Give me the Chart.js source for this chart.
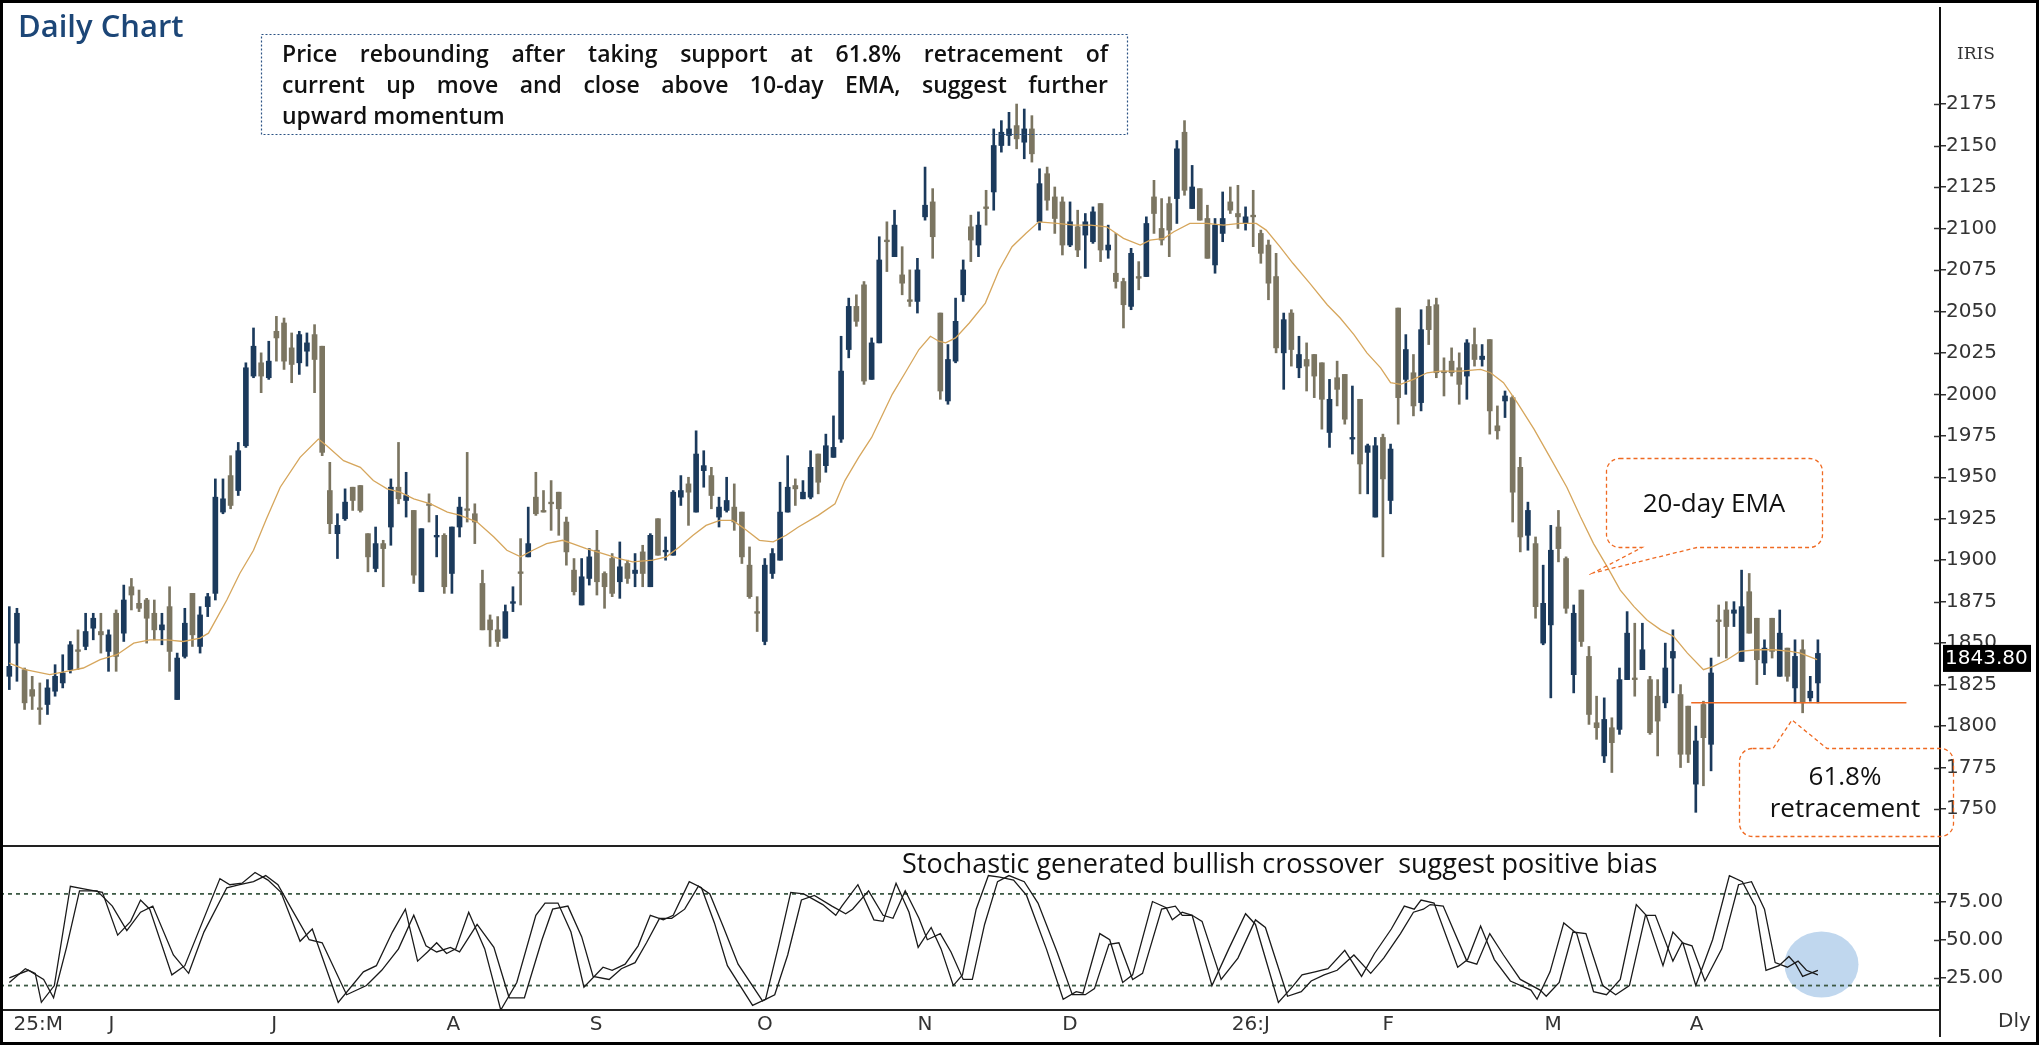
<!DOCTYPE html>
<html>
<head>
<meta charset="utf-8">
<script src="https://cdn.jsdelivr.net/npm/chart.js@4.4.1/dist/chart.umd.min.js"></script>
<style>
html, body { margin: 0; padding: 0; background: #fff; }
#wrap { position: relative; width: 2039px; height: 1045px; overflow: hidden; background: #fff; }
#priceChart { position: absolute; left: 0; top: 0; width: 2039px; height: 845px; }
#stochChart { position: absolute; left: 0; top: 845px; width: 2039px; height: 200px; }
#frame { position: absolute; left: 0; top: 0; width: 2039px; height: 1045px; box-sizing: border-box; border: 3px solid #000; pointer-events: none; }
</style>
</head>
<body>
<div id="wrap">
  <canvas id="priceChart" width="2039" height="845"></canvas>
  <canvas id="stochChart" width="2039" height="200"></canvas>
  <div id="frame"></div>
</div>
<script>
// daily candles (index 0 = first bar, mid-May 2025)
const opens = [
  1830,1850,1834,1822,1811,1813,1821,1826,1834,1846,
  1848,1859,1857,1845,1868,1856,1884,1874,1876,1868,
  1858,1872,1816,1842,1880,1848,1872,1880,1929,1951,
  1942,1969,2011,2019,2010,2038,2043,2028,2019,2026,
  2036,2029,1942,1916,1925,1944,1945,1916,1895,1910,
  1920,1944,1936,1930,1881,1934,1914,1915,1892,1920,
  1931,1928,1886,1864,1858,1853,1874,1893,1902,1938,
  1930,1935,1941,1923,1894,1873,1889,1906,1892,1901,
  1887,1898,1892,1905,1884,1925,1905,1903,1938,1946,
  1929,1954,1951,1926,1930,1932,1929,1897,1869,1851,
  1892,1900,1929,1945,1937,1938,1964,1957,1962,1973,
  2027,2053,2066,2009,2031,2093,2083,2072,2057,2056,
  2107,2116,2049,1996,2020,2060,2101,2090,2113,2122,
  2150,2156,2162,2152,2160,2104,2133,2119,2116,2090,
  2101,2096,2092,2115,2087,2073,2068,2053,2071,2071,
  2119,2100,2115,2118,2158,2112,2124,2106,2078,2097,
  2116,2109,2103,2108,2097,2090,2071,2025,2049,2016,
  2021,2024,2019,1977,2010,2012,1973,1997,1965,1926,
  1974,1936,2052,2009,2013,1995,2053,2054,2014,2020,
  2016,2011,2030,2021,2033,1981,1996,1998,1956,1915,
  1910,1850,1861,1920,1901,1831,1882,1842,1802,1782,
  1799,1798,1828,1829,1834,1828,1818,1814,1841,1819,
  1812,1765,1813,1789,1864,1870,1868,1839,1881,1865,
  1838,1865,1830,1847,1823,1846,1817,1826
];
const highs = [
  1872,1871,1835,1830,1826,1828,1837,1843,1851,1858,
  1868,1868,1868,1858,1870,1885,1889,1882,1877,1876,
  1868,1884,1844,1871,1880,1872,1880,1949,1949,1963,
  1971,2019,2040,2025,2032,2047,2046,2037,2038,2037,
  2042,2029,1959,1928,1943,1944,1945,1916,1920,1912,
  1949,1971,1953,1930,1919,1940,1927,1916,1920,1938,
  1965,1934,1894,1867,1866,1873,1884,1913,1932,1953,
  1942,1948,1941,1926,1901,1901,1907,1918,1893,1904,
  1911,1900,1904,1909,1916,1925,1914,1942,1951,1950,
  1978,1966,1956,1938,1950,1946,1929,1908,1878,1901,
  1907,1947,1963,1949,1948,1966,1964,1976,1987,2035,
  2058,2060,2068,2034,2095,2104,2111,2089,2075,2082,
  2137,2124,2049,2030,2058,2081,2108,2110,2123,2160,
  2165,2170,2175,2172,2168,2136,2137,2125,2119,2116,
  2111,2109,2113,2115,2102,2097,2070,2088,2080,2107,
  2129,2118,2119,2153,2165,2138,2124,2114,2106,2122,
  2125,2126,2113,2123,2099,2093,2085,2049,2051,2035,
  2031,2024,2019,2009,2020,2012,2005,1997,1970,1974,
  1976,1970,2052,2036,2024,2051,2057,2058,2022,2028,
  2025,2033,2040,2030,2033,1993,2002,1999,1962,1935,
  1914,1897,1921,1930,1902,1873,1882,1848,1818,1817,
  1805,1835,1869,1862,1862,1830,1828,1850,1858,1825,
  1812,1800,1815,1841,1873,1875,1875,1894,1892,1865,
  1852,1865,1870,1847,1852,1852,1830,1852
];
const lows = [
  1822,1827,1810,1810,1801,1807,1818,1823,1832,1834,
  1846,1852,1844,1833,1833,1851,1870,1869,1850,1852,
  1849,1833,1816,1841,1848,1844,1866,1876,1928,1931,
  1939,1968,2010,2001,2009,2020,2015,2007,2012,2017,
  2001,1963,1916,1901,1924,1930,1929,1893,1893,1884,
  1909,1934,1926,1886,1881,1923,1902,1880,1880,1914,
  1923,1910,1858,1848,1848,1853,1869,1873,1902,1927,
  1929,1918,1915,1897,1879,1873,1885,1879,1871,1878,
  1877,1886,1884,1884,1884,1903,1900,1903,1933,1921,
  1929,1944,1931,1920,1929,1918,1898,1877,1857,1849,
  1889,1900,1929,1933,1937,1937,1940,1953,1962,1971,
  2022,2041,2006,2009,2031,2074,2083,2060,2053,2049,
  2105,2082,1997,1994,2019,2056,2080,2083,2102,2111,
  2146,2150,2148,2142,2140,2099,2111,2097,2084,2089,
  2083,2076,2091,2080,2082,2064,2040,2051,2063,2071,
  2097,2090,2083,2103,2120,2112,2105,2082,2073,2092,
  2109,2100,2099,2089,2079,2057,2025,2003,2017,2010,
  2002,1998,1979,1968,1993,1982,1964,1940,1940,1926,
  1902,1928,1982,2000,1987,1990,2030,2010,1999,2011,
  1994,1997,2017,2017,1976,1973,1986,1923,1905,1906,
  1865,1849,1817,1899,1868,1820,1848,1801,1792,1778,
  1772,1795,1828,1818,1834,1795,1782,1811,1820,1775,
  1778,1748,1764,1773,1842,1841,1860,1839,1856,1825,
  1831,1841,1830,1827,1814,1808,1815,1814
];
const closes = [
  1836,1868,1814,1818,1810,1823,1830,1832,1849,1845,
  1857,1865,1855,1855,1842,1876,1879,1871,1865,1858,
  1861,1845,1841,1862,1855,1867,1878,1938,1937,1933,
  1966,2016,2029,2011,2020,2034,2020,2018,2036,2031,
  2021,1965,1922,1921,1935,1936,1930,1902,1910,1907,
  1944,1937,1939,1891,1919,1933,1915,1884,1920,1932,
  1930,1923,1858,1858,1851,1869,1875,1892,1910,1928,
  1929,1934,1931,1905,1881,1890,1902,1887,1884,1880,
  1896,1889,1894,1892,1915,1903,1906,1941,1942,1941,
  1964,1957,1939,1932,1936,1923,1902,1878,1868,1897,
  1904,1929,1944,1943,1941,1956,1947,1969,1968,2014,
  2053,2044,2008,2031,2081,2092,2102,2067,2056,2075,
  2114,2095,2002,2021,2044,2075,2093,2102,2112,2150,
  2158,2160,2154,2160,2145,2127,2117,2106,2090,2104,
  2087,2104,2110,2087,2090,2068,2054,2085,2070,2103,
  2109,2093,2099,2148,2123,2125,2105,2082,2102,2106,
  2111,2107,2107,2107,2085,2067,2028,2045,2027,2024,
  2017,2011,1997,1997,2003,1985,1974,1958,1969,1969,
  1949,1967,1998,2027,1993,2039,2039,2013,2013,2013,
  2006,2031,2021,2023,1990,1978,1999,1941,1914,1930,
  1872,1874,1906,1907,1871,1868,1851,1807,1799,1804,
  1790,1828,1856,1828,1846,1796,1803,1835,1845,1783,
  1783,1791,1793,1832,1863,1860,1870,1872,1856,1840,
  1847,1845,1856,1830,1842,1814,1821,1843.8
];

// 20-day EMA, read at [bar index, price]
const emaPoints = [
  [0,1838],[2.1,1834],[5.3,1831],[7.5,1833],[9.7,1835],[11.9,1840],[14.1,1843],[16.3,1850],
  [18.4,1852],[20.6,1852],[22.8,1851],[25,1853],[26.1,1856],[28.5,1876],[30.2,1892],[32,1906],
  [33.7,1925],[35.5,1944],[38.1,1962],[40.5,1973],[41.6,1969],[43.8,1960],[46,1956],[47.7,1948],
  [49.5,1943],[51.2,1941],[53,1937],[55.2,1934],[57.4,1929],[59.1,1927],[61.3,1923],[63.5,1914],
  [65.2,1906],[67,1902],[68.6,1906],[70.4,1910],[72.5,1912],[73.8,1910],[75.6,1907],[77.8,1904],
  [79.9,1901],[81.7,1899],[84.3,1900],[86.1,1902],[87.8,1908],[89.6,1915],[91.3,1921],[93.1,1924],
  [94.8,1924],[96.6,1918],[98.3,1912],[100.1,1911],[101.8,1915],[103.4,1920],[106,1927],[108.2,1934],
  [109.5,1948],[111.3,1962],[113,1974],[115.7,2000],[117.4,2013],[119.2,2027],[120.7,2035],[121.8,2032],
  [122.7,2031],[124,2034],[125.8,2043],[127.9,2055],[129.7,2075],[131.4,2089],[133.2,2097],[134.9,2104],
  [137.3,2103],[139.5,2102],[141.7,2102],[143.8,2101],[146,2094],[148.2,2090],[149.5,2093],[151.3,2094],
  [152.6,2098],[154.7,2103],[156.9,2103],[159.1,2102],[161.3,2103],[163.4,2103],[164.7,2099],[166.5,2089],
  [168.2,2079],[170.4,2067],[172.7,2054],[174.4,2046],[176.2,2036],[177.9,2025],[179.7,2016],[181,2007],
  [182.3,2006],[184,2009],[185.8,2013],[187.5,2014],[190.2,2014],[192.8,2015],[194.1,2013],[195.8,2007],
  [197.6,1995],[199.8,1979],[201.9,1962],[204.1,1944],[205.9,1926],[207.6,1910],[209.4,1896],[211.1,1882],
  [212.9,1872],[214.6,1864],[216.4,1858],[218.1,1854],[219.9,1844],[222,1834],[223.3,1836],[225.1,1840],
  [226.8,1845],[229,1846],[231.2,1846],[233.4,1845],[234.7,1844],[236.9,1840]
];

// stochastic %K and %D, [bar index, value]
const stochK = [
  [0,22],[2.1,31],[3.4,28],[4.2,9],[5.9,20],[8,85],[10.1,83],[12.2,81],[14.2,53],[15.9,62],[17.2,76],
  [18.4,70],[21.3,27],[23,33],[27.6,90],[28.9,86],[30.5,87],[32.2,94],[33.9,89],[35.6,81],[38.1,49],
  [39.7,57],[43.1,9],[46.4,29],[48.1,33],[50.2,55],[51.9,70],[53.5,36],[54.8,42],[56,48],[57.3,41],
  [58.5,44],[60.2,68],[62.3,44],[64.4,4],[66.5,22],[69,66],[70.2,74],[71.9,74],[73.6,55],[75.3,19],
  [77.8,32],[79,30],[80.7,34],[82.4,46],[84,66],[85.7,63],[87,66],[89.1,88],[90.7,84],[92.4,61],
  [94.1,33],[97.4,7],[99.1,11],[100.8,46],[102.4,81],[104.1,80],[106.6,73],[108.3,66],[109.1,72],
  [111.2,86],[113.3,63],[114.5,62],[116.2,87],[117.9,68],[119.1,45],[120.8,58],[122.1,44],[123.7,20],
  [124.9,27],[126.7,70],[128.3,92],[129.8,91],[131.6,89],[133.3,79],[135.9,44],[138.1,11],[139.8,16],
  [140.7,15],[142.9,54],[144.2,50],[145.9,22],[147.2,27],[149.8,75],[151.6,71],[152.4,63],[153.7,68],
  [155,66],[157.6,20],[159.8,44],[162,67],[163.3,60],[166.3,9],[168.1,19],[169.4,27],[171.1,29],
  [172.8,31],[175,43],[177.2,26],[178.9,41],[181.1,57],[182.8,72],[184.1,70],[185,76],[186.7,74],
  [189.8,32],[191.1,37],[192.8,59],[194.6,37],[196.7,23],[199.4,17],[200.2,11],[201.9,29],[203.7,61],
  [205.4,54],[207.6,16],[209.3,14],[211.1,24],[213.2,73],[214.5,66],[216.7,33],[218,55],[219.3,48],
  [221,20],[223.2,50],[225.4,92],[227.1,88],[228.8,72],[230.2,30],[231.9,33],[233.2,39],[234.1,34],
  [235,26],[237,30]
];
const stochD = [
  [0,25],[2.5,30],[4.5,24],[5.8,12],[7.5,45],[9.2,82],[11.5,82],[13.5,72],[15.4,56],[17.2,68],[18.8,72],
  [21.5,40],[23.5,28],[25.5,55],[28.5,84],[30.2,86],[32,88],[33.6,92],[35.2,86],[37,70],[39.3,50],
  [41,48],[44.2,14],[46.8,20],[48.8,30],[51,44],[53,66],[54.6,46],[56,42],[57.8,45],[59,42],
  [61.3,60],[63.5,45],[65.5,12],[67.5,12],[69.8,50],[71.2,70],[73.2,72],[75,52],[76.5,26],[78.6,24],
  [80.2,31],[82,35],[83.5,48],[85.2,64],[86.8,64],[88.5,70],[90.3,85],[91.8,80],[93.6,58],[95.5,34],
  [98.7,10],[100.3,14],[102,40],[103.8,76],[105.5,79],[107.8,72],[109.6,67],[110.5,70],[112.6,82],
  [114.5,66],[115.8,64],[117.4,82],[119.2,64],[120.3,50],[122,54],[123.4,42],[125,24],[126.2,24],
  [127.8,60],[129.5,88],[131,92],[133,88],[134.8,74],[137.3,42],[139.3,14],[141,14],[142.2,18],
  [144.1,47],[145.4,48],[147.2,24],[148.5,28],[151,70],[152.8,72],[153.7,66],[155,66],[156.3,62],
  [158.8,24],[161,38],[163.3,63],[164.6,58],[167.5,13],[169.3,16],[170.6,23],[172.3,27],[174,30],
  [176.2,40],[178.4,28],[180.1,38],[182.3,54],[184,68],[185.3,70],[186.2,73],[187.9,72],[191,36],
  [192.3,34],[194,54],[195.8,40],[198,24],[200.6,17],[201.4,13],[203.1,22],[204.9,55],[206.6,54],
  [208.8,20],[210.5,14],[212.3,20],[214.4,66],[215.7,66],[218,36],[219.2,48],[220.5,46],[222.2,23],
  [224.4,44],[226.6,86],[228.3,88],[230,70],[231.4,35],[233,32],[234.4,36],[235.5,30],[237,27]
];

const priceTicks = [1750,1775,1800,1825,1850,1875,1900,1925,1950,1975,2000,2025,2050,2075,2100,2125,2150,2175];
const stochTicks = [25, 50, 75];
const stochBands = [20, 80];
const monthLabels = ['25:M','J','J','A','S','O','N','D','26:J','F','M','A'];
const monthIdx = [3.8, 13.4, 34.7, 58.2, 76.9, 99, 120, 139, 162.7, 180.7, 202.3, 221.1];
const retraceLevel = 1814;
const retraceFrom = 220.4, retraceTo = 248.6;

const UP = '#1b3a5c';
const DOWN = '#7b7561';
const EMA_COLOR = '#d6a65c';
const ORANGE = '#ef6a22';
const axisFont = { family: 'DejaVu Sans', size: 20 };
const axisColor = '#333';
const xMin = -1.22, xMax = 253.0;

Chart.defaults.animation = false;

const bars = closes.map((c, i) => i);
const candleColors = closes.map((c, i) => c >= opens[i] ? UP : DOWN);

function justified(ctx, text, x, y, width, justify) {
  const words = text.split(' ');
  const widths = words.map(w => ctx.measureText(w).width);
  const total = widths.reduce((a, b) => a + b, 0);
  const gap = justify ? (width - total) / (words.length - 1) : ctx.measureText(' ').width;
  let cx = x;
  words.forEach((w, i) => {
    ctx.fillText(w, cx, y);
    cx += widths[i] + gap;
  });
}

function callout(ctx, x, y, w, h, r, ptr) {
  ctx.beginPath();
  ctx.moveTo(x + r, y);
  if (ptr.side === 'top') {
    ctx.lineTo(ptr.a, y);
    ctx.lineTo(ptr.tx, ptr.ty);
    ctx.lineTo(ptr.b, y);
  }
  ctx.lineTo(x + w - r, y);
  ctx.arcTo(x + w, y, x + w, y + r, r);
  ctx.lineTo(x + w, y + h - r);
  ctx.arcTo(x + w, y + h, x + w - r, y + h, r);
  if (ptr.side === 'bottom') {
    ctx.lineTo(ptr.b, y + h);
    ctx.lineTo(ptr.tx, ptr.ty);
    ctx.lineTo(ptr.a, y + h);
  }
  ctx.lineTo(x + r, y + h);
  ctx.arcTo(x, y + h, x, y + h - r, r);
  ctx.lineTo(x, y + r);
  ctx.arcTo(x, y, x + r, y, r);
  ctx.closePath();
}

const priceDecor = {
  id: 'priceDecor',
  afterDraw(chart) {
    const ctx = chart.ctx;
    const yScale = chart.scales.y;
    const axisX = chart.chartArea.right;
    ctx.save();

    // little left half of the axis ticks
    ctx.strokeStyle = '#333';
    ctx.lineWidth = 1.5;
    priceTicks.forEach(v => {
      const y = Math.round(yScale.getPixelForValue(v)) + 0.5;
      ctx.beginPath();
      ctx.moveTo(axisX - 6, y);
      ctx.lineTo(axisX, y);
      ctx.stroke();
    });

    // title
    ctx.fillStyle = '#1c4677';
    ctx.font = '600 31px "Open Sans"';
    ctx.textBaseline = 'middle';
    ctx.textAlign = 'left';
    ctx.fillText('Daily Chart', 18, 28, 172);

    // comment box
    ctx.setLineDash([2, 2]);
    ctx.strokeStyle = '#2b5283';
    ctx.lineWidth = 1.2;
    ctx.strokeRect(261.5, 34.5, 866, 100);
    ctx.setLineDash([]);
    ctx.fillStyle = '#111';
    ctx.font = '600 23px "Open Sans"';
    justified(ctx, 'Price rebounding after taking support at 61.8% retracement of', 282, 55, 826, true);
    justified(ctx, 'current up move and close above 10-day EMA, suggest further', 282, 86, 826, true);
    justified(ctx, 'upward momentum', 282, 117, 826, false);

    // callouts
    ctx.setLineDash([4, 3]);
    ctx.strokeStyle = ORANGE;
    ctx.lineWidth = 1.3;
    callout(ctx, 1606.5, 458.5, 216, 89, 13, { side: 'bottom', a: 1642, b: 1697, tx: 1593, ty: 573 });
    ctx.stroke();
    callout(ctx, 1739.5, 748.5, 214, 88, 13, { side: 'top', a: 1773, b: 1827, tx: 1792, ty: 720 });
    ctx.stroke();
    ctx.setLineDash([]);

    ctx.fillStyle = '#111';
    ctx.font = '500 26px "Open Sans"';
    ctx.textAlign = 'center';
    ctx.fillText('20-day EMA', 1714, 505);
    ctx.fillText('61.8%', 1845, 778);
    ctx.fillText('retracement', 1845, 810);

    // symbol and last price tag
    ctx.font = '17px "DejaVu Serif"';
    ctx.fillStyle = '#333';
    ctx.fillText('IRIS', 1976, 55);
    const last = closes[closes.length - 1];
    const ty = yScale.getPixelForValue(last) + 5;
    ctx.fillStyle = '#000';
    ctx.fillRect(axisX + 3, ty - 13.5, 88, 27);
    ctx.fillStyle = '#fff';
    ctx.textAlign = 'left';
    ctx.font = '20px "DejaVu Sans"';
    ctx.fillText(last.toFixed(2), axisX + 5, ty);
    ctx.restore();
  }
};

const stochDecor = {
  id: 'stochDecor',
  beforeDatasetsDraw(chart) {
    const ctx = chart.ctx;
    ctx.save();
    ctx.fillStyle = 'rgba(150,188,226,0.6)';
    ctx.beginPath();
    ctx.ellipse(1821.5, 119.5, 37, 33, 0, 0, Math.PI * 2);
    ctx.fill();
    ctx.restore();
  },
  afterDraw(chart) {
    const ctx = chart.ctx;
    const area = chart.chartArea;
    const yScale = chart.scales.y;
    ctx.save();
    ctx.strokeStyle = '#222';
    ctx.lineWidth = 2;
    ctx.beginPath();
    ctx.moveTo(0, 1);
    ctx.lineTo(area.right, 1);
    ctx.moveTo(area.right, area.bottom);
    ctx.lineTo(area.right, 192);
    ctx.stroke();

    ctx.strokeStyle = '#333';
    ctx.lineWidth = 1.5;
    stochTicks.forEach(v => {
      const y = Math.round(yScale.getPixelForValue(v)) + 0.5;
      ctx.beginPath();
      ctx.moveTo(area.right - 6, y);
      ctx.lineTo(area.right, y);
      ctx.stroke();
    });

    ctx.fillStyle = '#111';
    ctx.textBaseline = 'middle';
    ctx.textAlign = 'left';
    ctx.font = '500 27px "Open Sans"';
    ctx.fillText('Stochastic generated bullish crossover  suggest positive bias', 902, 20, 757);

    ctx.fillStyle = axisColor;
    ctx.font = '20px "DejaVu Sans"';
    ctx.fillText('Dly', 1998, 177);
    ctx.restore();
  }
};

const fitRight = s => {
  s.width = 99;
  s.paddingTop = 0;
  s.paddingBottom = 0;
};

new Chart(document.getElementById('priceChart'), {
  type: 'bar',
  data: {
    datasets: [
      {
        type: 'line',
        data: [{ x: retraceFrom, y: retraceLevel }, { x: retraceTo, y: retraceLevel }],
        borderColor: ORANGE,
        borderWidth: 1.5,
        pointRadius: 0,
        order: 0
      },
      {
        type: 'line',
        data: emaPoints.map(p => ({ x: p[0], y: p[1] })),
        borderColor: EMA_COLOR,
        borderWidth: 1.3,
        pointRadius: 0,
        tension: 0,
        order: 1
      },
      {
        data: bars.map(i => ({ x: i, y: [opens[i], closes[i]] })),
        backgroundColor: candleColors,
        barThickness: 5,
        grouped: false,
        order: 2
      },
      {
        data: bars.map(i => ({ x: i, y: [lows[i], highs[i]] })),
        backgroundColor: candleColors,
        barThickness: 2,
        grouped: false,
        order: 3
      }
    ]
  },
  options: {
    responsive: false,
    devicePixelRatio: 1,
    layout: { padding: { top: 8, left: 0, right: 0, bottom: 0 } },
    plugins: { legend: { display: false }, tooltip: { enabled: false } },
    scales: {
      x: { type: 'linear', min: xMin, max: xMax, offset: false, display: false },
      y: {
        position: 'right',
        min: 1728.3,
        max: 2232.9,
        afterFit: fitRight,
        afterBuildTicks: s => { s.ticks = priceTicks.map(v => ({ value: v })); },
        ticks: { font: axisFont, color: axisColor, padding: 0, callback: v => String(v) },
        grid: { drawOnChartArea: false, drawTicks: true, tickLength: 6, color: '#333', lineWidth: 1.5 },
        border: { display: true, color: '#111', width: 2 }
      }
    }
  },
  plugins: [priceDecor]
});

new Chart(document.getElementById('stochChart'), {
  type: 'line',
  data: {
    datasets: [
      {
        data: stochK.map(p => ({ x: p[0], y: p[1] })),
        borderColor: '#1a1a1a',
        borderWidth: 1.3,
        pointRadius: 0
      },
      {
        data: stochD.map(p => ({ x: p[0], y: p[1] })),
        borderColor: '#1a1a1a',
        borderWidth: 1.3,
        pointRadius: 0
      },
      ...stochBands.map(v => ({
        data: [{ x: xMin, y: v }, { x: xMax, y: v }],
        borderColor: '#3d5a45',
        borderWidth: 1.8,
        borderDash: [4, 4],
        pointRadius: 0
      }))
    ]
  },
  options: {
    responsive: false,
    devicePixelRatio: 1,
    layout: { padding: 0 },
    plugins: { legend: { display: false }, tooltip: { enabled: false } },
    scales: {
      x: {
        type: 'linear',
        min: xMin,
        max: xMax,
        offset: false,
        afterFit: s => { s.height = 35; s.paddingLeft = 0; s.paddingRight = 0; },
        afterBuildTicks: s => { s.ticks = monthIdx.map(v => ({ value: v })); },
        ticks: {
          autoSkip: false,
          maxRotation: 0,
          font: axisFont,
          color: axisColor,
          padding: 3,
          callback: (v, i) => monthLabels[i]
        },
        grid: { drawOnChartArea: false, drawTicks: false },
        border: { display: true, color: '#222', width: 2 }
      },
      y: {
        position: 'right',
        min: 4,
        max: 112,
        afterFit: fitRight,
        afterBuildTicks: s => { s.ticks = stochTicks.map(v => ({ value: v })); },
        ticks: { font: axisFont, color: axisColor, padding: 0, callback: v => v.toFixed(2) },
        grid: { drawOnChartArea: false, drawTicks: true, tickLength: 6, color: '#333', lineWidth: 1.5 },
        border: { display: true, color: '#111', width: 2 }
      }
    }
  },
  plugins: [stochDecor]
});
</script>
</body>
</html>
